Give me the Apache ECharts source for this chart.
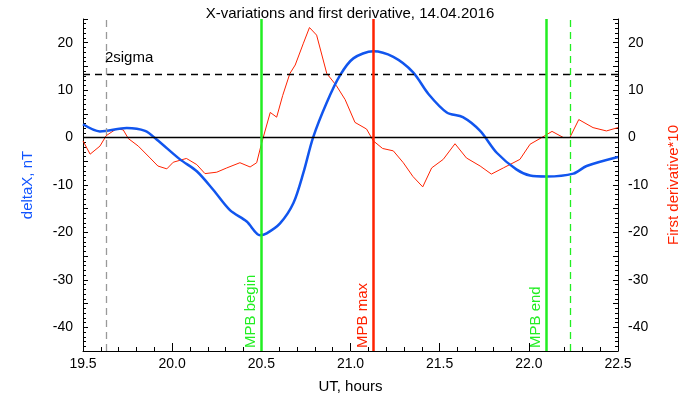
<!DOCTYPE html>
<html><head><meta charset="utf-8">
<script src="https://cdn.jsdelivr.net/npm/echarts@6/dist/echarts.min.js"></script>
<style>html,body{margin:0;background:#fff}#c{width:700px;height:400px}</style>
</head><body><div id="c"></div>
<script>
const blueX=[19.5,19.595,19.745,19.848,19.913,20.044,20.138,20.23,20.324,20.418,20.493,20.53,20.605,20.68,20.736,20.79,20.867,20.941,21.016,21.128,21.24,21.35,21.437,21.54,21.63,21.727,21.82,21.93,22.007,22.1,22.25,22.324,22.5];
const blueY=[2.8,1.3,2.0,1.4,-0.4,-4.6,-7.1,-11,-15.3,-17.7,-20.6,-20.2,-18.1,-13.8,-7.4,0,7.4,13.1,16.7,18.2,17.0,13.8,9.2,5.3,4.3,1.4,-3.2,-6.7,-8.0,-8.2,-7.6,-6.0,-4.1];
const redX=[19.5,19.54,19.595,19.63,19.69,19.726,19.754,19.81,19.876,19.92,19.97,20.006,20.08,20.138,20.184,20.25,20.306,20.38,20.437,20.474,20.5,20.55,20.586,20.62,20.66,20.69,20.736,20.77,20.81,20.867,20.92,20.97,21.025,21.09,21.128,21.18,21.24,21.296,21.35,21.405,21.455,21.52,21.586,21.65,21.727,21.79,21.857,21.95,22.007,22.063,22.13,22.194,22.23,22.28,22.36,22.435,22.5];
const redY=[-0.7,-3.5,-1.8,0.4,1.9,1.6,-0.2,-1.8,-4.3,-6.0,-6.6,-5.2,-4.4,-5.7,-7.6,-7.3,-6.4,-5.3,-6.2,-5.3,-1.4,5.3,4.3,8.9,13.5,15.3,19.9,23.2,21.6,13.5,11.0,8.0,3.2,1.8,-0.7,-2.3,-2.8,-5.3,-8.2,-10.4,-6.4,-4.6,-1.3,-4.3,-6.0,-7.7,-6.4,-4.6,-1.4,-0.2,1.3,0,0,3.8,2.1,1.4,2.1];
const xTicks=[19.5,20.0,20.5,21.0,21.5,22.0,22.5];
const sigma2=13.4;
const events=[{t:20.505,name:'MPB begin',color:'#22ee22'},{t:21.13,name:'MPB max',color:'#ff2200'},{t:22.10,name:'MPB end',color:'#22ee22'}];
const dashedMarks=[19.625,22.23];
const F='Liberation Sans, Arial, sans-serif';
const blue=blueX.map((x,i)=>[x,blueY[i]]);
const red=redX.map((x,i)=>[x,redY[i]]);
const yAx=(pos,name,color)=>({type:'value',position:pos,min:-45,max:25,interval:5,
 name:name,nameLocation:'middle',nameGap:48,nameTextStyle:{color:color,fontSize:15,fontFamily:F},
 axisLine:{show:true,onZero:false,lineStyle:{color:'#000'}},axisTick:{inside:true,length:5,lineStyle:{color:'#000'}},
 minorTick:{show:true,splitNumber:5,length:3,lineStyle:{color:'#000'}},
 axisLabel:{color:'#000',fontSize:14,fontFamily:F,margin:10,formatter:v=>v%10===0?String(v):''},splitLine:{show:false}});
const opt={animation:false,
 title:{text:'X-variations and first derivative, 14.04.2016',left:'center',top:1,textStyle:{fontSize:15,fontWeight:'normal',fontFamily:F,color:'#000'}},
 grid:{left:83,right:82,top:19,bottom:49},
 xAxis:{type:'value',min:19.5,max:22.5,interval:0.5,name:'UT, hours',nameLocation:'middle',nameGap:28,
  nameTextStyle:{color:'#000',fontSize:15,fontFamily:F},
  axisLine:{onZero:false,lineStyle:{color:'#000'}},axisTick:{inside:true,length:8,lineStyle:{color:'#000'}},
  minorTick:{show:true,splitNumber:5,length:4,lineStyle:{color:'#000'}},
  axisLabel:{color:'#000',fontSize:14,fontFamily:F,margin:6,formatter:v=>v.toFixed(1)},splitLine:{show:false}},
 yAxis:[yAx('left','deltaX, nT','#1155ff'),yAx('right','First derivative*10','#ff2200')],
 series:[
  {type:'line',data:red,yAxisIndex:1,symbol:'none',lineStyle:{color:'#ff2200',width:1},z:3,
   markLine:{symbol:'none',silent:true,data:[
    {yAxis:0,lineStyle:{color:'#000',width:1.3,type:'solid'},label:{show:false}},
    {yAxis:sigma2,lineStyle:{color:'#000',width:1.3,type:[7,5]},label:{show:false}},
    ...dashedMarks.map((t,i)=>({xAxis:t,lineStyle:{color:i===0?'#999':'#22ee22',width:1.3,type:[7,5]},label:{show:false}})),
    ...events.map(e=>({xAxis:e.t,lineStyle:{color:e.color,width:2.5,type:'solid'},
      label:{show:true,formatter:e.name,position:'insideStartTop',color:e.color,fontSize:15,fontFamily:F,distance:[3,3]}}))
   ]}},
  {type:'line',data:blue,yAxisIndex:0,symbol:'none',smooth:0.3,lineStyle:{color:'#1155ee',width:2.5},z:4,
   markPoint:{symbol:'circle',symbolSize:1,itemStyle:{color:'rgba(0,0,0,0)'},data:[{coord:[19.62,sigma2+3.5],
    label:{show:true,formatter:'2sigma',color:'#000',fontSize:15,fontFamily:F,position:'right',distance:0}}]}}
 ]};
echarts.init(document.getElementById('c')).setOption(opt);
</script></body></html>
